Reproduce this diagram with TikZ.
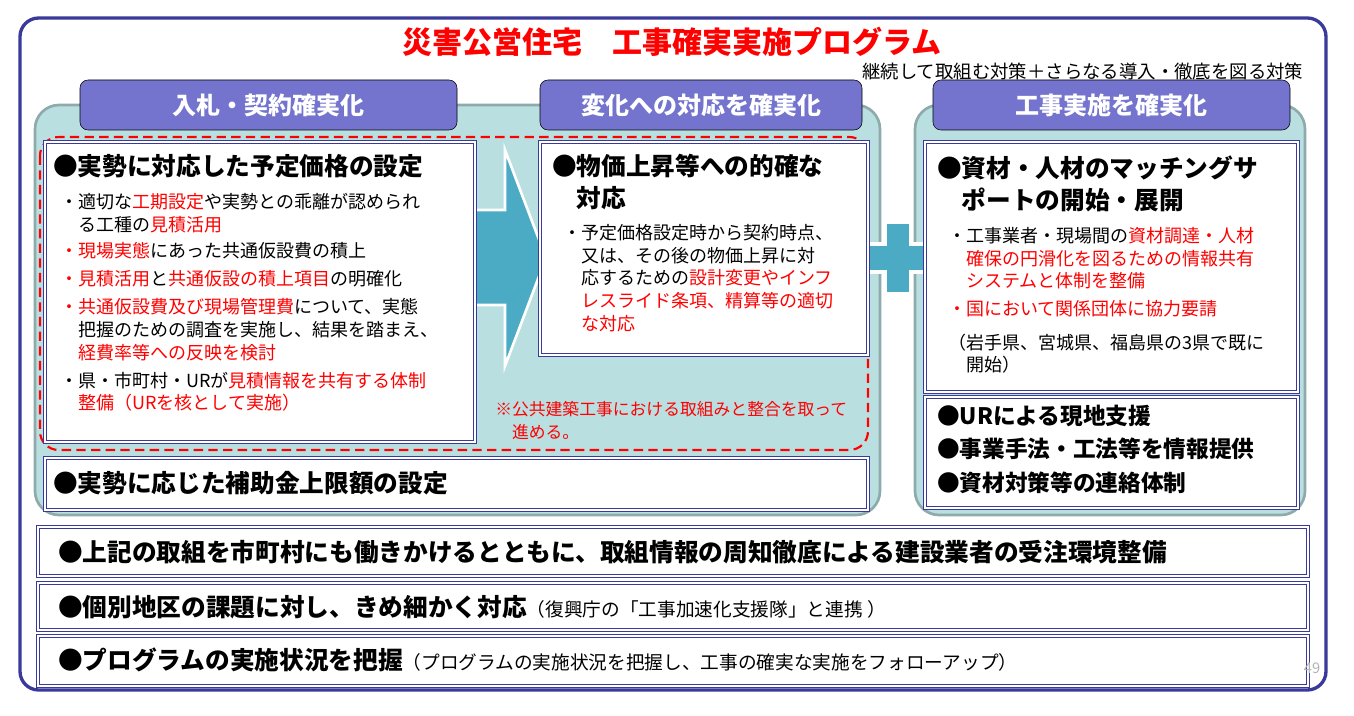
\documentclass[tikz,border=0pt]{standalone}
\usepackage{fontspec}
\setmainfont{Noto Sans CJK JP}
\usetikzlibrary{positioning,shapes.arrows}
\definecolor{navy}{HTML}{3A3A9A}
\definecolor{panel}{HTML}{B9DFE1}
\definecolor{panelline}{HTML}{8FAAAA}
\definecolor{tabfill}{HTML}{7474CE}
\definecolor{teal}{HTML}{4BAAC4}
\newcommand{\rd}[1]{\textcolor{red}{#1}}
\newcommand{\ind}{\hphantom{・}}
\newcommand{\bodyfont}{\fontsize{13.5}{17}\selectfont}
\newcommand{\headfont}{\fontsize{18.5}{24}\selectfont\bfseries}

\begin{document}
\begin{tikzpicture}[x=0.75pt,y=-0.75pt]
  \tikzstyle{panelbox}=[draw=panelline,fill=panel,line width=2pt,rounded corners=18pt]
  \tikzstyle{tab}=[fill=tabfill,rounded corners=6pt,text=white,font=\fontsize{18}{20}\selectfont\bfseries]
  \tikzstyle{card}=[draw=navy,double=white,double distance=1.2pt,line width=0.6pt,fill=white]
  \tikzstyle{txt}=[anchor=north west,inner sep=0pt,align=left]

  \useasboundingbox (0,0) rectangle (1354,716);
  \draw[navy,line width=2.5pt,rounded corners=14pt,fill=white] (20,18) rectangle (1326,690);

  \node[text=red,font=\fontsize{22.5}{26}\selectfont\bfseries] (title) at (672,42) {災害公営住宅　工事確実実施プログラム};
  \node[font=\fontsize{13.8}{15}\selectfont,anchor=east] (sub) at (1308,72) {継続して取組む対策＋さらなる導入・徹底を図る対策};

  % panels
  \draw[panelbox] (35,105) rectangle (880,515);
  \draw[panelbox] (915,105) rectangle (1305,515);
  \draw[tab] (80,80) rectangle (457,130) node[midway] (tabA) {入札・契約確実化};
  \draw[tab] (540,80) rectangle (862,130) node[midway] (tabB) {変化への対応を確実化};
  \draw[tab] (933,80) rectangle (1290,130) node[midway] (tabC) {工事実施を確実化};

  \draw[red,dashed,line width=1.6pt,dash pattern=on 7pt off 4pt,rounded corners=14pt] (40,137) rectangle (868,450);

  % arrow and plus
  \draw[fill=teal,draw=white,line width=2pt] (470,210) -- (505,210) -- (505,150) -- (546,258) -- (505,366) -- (505,305) -- (470,305) -- cycle;
  \draw[fill=teal,draw=white,line width=2.5pt] (885,222) -- (911,222) -- (911,244) -- (935,244) -- (935,272) -- (911,272) -- (911,294) -- (885,294) -- (885,272) -- (861,272) -- (861,244) -- (885,244) -- cycle;

  % cards
  \draw[card] (45,142) rectangle (475,442);
  \draw[card] (540,142) rectangle (868,355);
  \draw[card] (925,142) rectangle (1298,392);
  \draw[card] (925,397) rectangle (1298,508);
  \draw[card] (45,458) rectangle (868,510);
  \draw[card] (38,527) rectangle (1308,576);
  \draw[card] (38,583) rectangle (1308,630);
  \draw[card] (38,636) rectangle (1308,686);

  \node[txt,font=\headfont] (headA) at (53,154) {●実勢に対応した予定価格の設定};
  \node[txt,font=\bodyfont] (bodyA) at (60,193) {・適切な\rd{工期設定}や実勢との乖離が認められ\\
    \ind る工種の\rd{見積活用}\\[3pt]
    \rd{・現場実態}にあった共通仮設費の積上\\[4pt]
    \rd{・見積活用}と\rd{共通仮設の積上項目}の明確化\\[4pt]
    \rd{・共通仮設費及び現場管理費}について、実態\\
    \ind 把握のための調査を実施し、結果を踏まえ、\\
    \ind\rd{経費率等への反映を検討}\\[4pt]
    ・県・市町村・URが\rd{見積情報を共有する体制}\\
    \ind\rd{整備（URを核として実施）}};

  \node[txt,font=\headfont] (headB) at (552,154) {●物価上昇等への的確な\\\hphantom{●}対応};
  \node[txt,font=\bodyfont] (bodyB) at (563,224) {・予定価格設定時から契約時点、\\
    \ind 又は、その後の物価上昇に対\\
    \ind 応するための\rd{設計変更やインフ}\\
    \ind\rd{レスライド条項、精算等の適切}\\
    \ind\rd{な対応}};

  \node[txt,text=red,font=\fontsize{12.6}{17}\selectfont] (note) at (495,401) {※公共建築工事における取組みと整合を取って\\\hphantom{※}進める。};

  \node[txt,font=\headfont] (headC) at (937,156) {●資材・人材のマッチングサ\\\hphantom{●}ポートの開始・展開};
  \node[txt,font=\bodyfont] (bodyC) at (948,227) {・工事業者・現場間の\rd{資材調達・人材}\\
    \ind\rd{確保の円滑化を図るための情報共有}\\
    \ind\rd{システムと体制を整備}\\[4pt]
    \rd{・国において関係団体に協力要請}\\[8pt]
    （岩手県、宮城県、福島県の3県で既に\\
    \ind 開始）};

  \node[txt,font=\fontsize{17}{25}\selectfont\bfseries] (bodyD) at (937,405) {●URによる現地支援\\●事業手法・工法等を情報提供\\●資材対策等の連絡体制};

  \node[txt,font=\headfont] (headE) at (53,471) {●実勢に応じた補助金上限額の設定};
  \node[txt,font=\headfont] (rowA) at (58,540) {●上記の取組を市町村にも働きかけるとともに、取組情報の周知徹底による建設業者の受注環境整備};
  \node[txt,font=\headfont] (rowB) at (58,595) {●個別地区の課題に対し、きめ細かく対応{\mdseries\fontsize{14}{16}\selectfont（復興庁の「工事加速化支援隊」と連携 ）}};
  \node[txt,font=\headfont] (rowC) at (58,648) {●プログラムの実施状況を把握{\mdseries\fontsize{14}{16}\selectfont（プログラムの実施状況を把握し、工事の確実な実施をフォローアップ）}};
  \node[text=gray!60,font=\fontsize{11}{12}\selectfont] (page) at (1312,668) {49};
\end{tikzpicture}
\end{document}
